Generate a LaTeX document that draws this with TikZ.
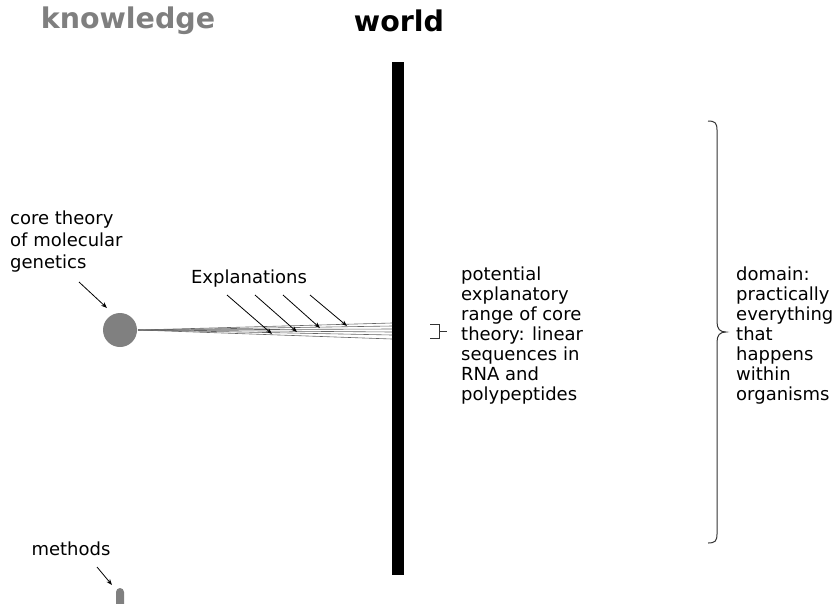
\documentclass[tikz,border=0pt]{standalone}
\usepackage{fontspec}
\setmainfont{DejaVu Sans}
\usetikzlibrary{arrows.meta}
\definecolor{kgray}{HTML}{7F7F7F}
\definecolor{cgray}{HTML}{808080}
\tikzset{
  lbl/.style={inner sep=0pt, align=left, font=\fontsize{18}{20}\selectfont},
  lblw/.style={inner sep=0pt, align=left, font=\fontsize{18}{22}\selectfont},
  head/.style={inner sep=0pt, font=\fontsize{28.5}{32}\selectfont\bfseries},
  ptr/.style={draw=black, line width=0.8pt, -{Stealth[length=6pt,width=4.5pt]}},
  fan/.style={draw=black!60, line width=0.6pt},
  brc/.style={draw=black!80, line width=1pt}
}
\begin{document}
\begin{tikzpicture}[x=1pt,y=-1pt]
\useasboundingbox (0,0) rectangle (837,603);
% headings
\node[head, text=kgray] (know) at (128,21) {knowledge};
\node[head] (world) at (399,21) {world};
% wall
\node[fill=black, inner sep=0pt, minimum width=12pt, minimum height=513pt] (wall) at (398,318.5) {};
% core theory
\node[circle, fill=cgray, inner sep=0pt, minimum size=34pt] (core) at (120,330) {};
\node[lblw, anchor=north west] (coretxt) at (10,211) {core theory\\of molecular\\genetics};
\coordinate (ca) at (79,282);
\coordinate (cb) at (107,308);
\draw[ptr] (ca) -- (cb);
% fan of explanations
\coordinate (fo) at (138,330);
\foreach \y/\n in {323/1,326/2,329/3,332/4,335/5,339/6}{
  \coordinate (f\n) at (392,\y);
  \draw[fan] (fo) -- (f\n);
}
\node[lbl] (expl) at (249,279) {Explanations};
\foreach \sx/\ex/\ey/\n in {227/272/334/1,255/297/332/2,283/320/328/3,310/347/326/4}{
  \coordinate (es\n) at (\sx,295);
  \coordinate (ee\n) at (\ex,\ey);
  \draw[ptr] (es\n) -- (ee\n);
}
% small bracket
\coordinate (b1) at (430,324);
\coordinate (b2) at (439,324);
\coordinate (b3) at (439,338);
\coordinate (b4) at (430,338);
\coordinate (b5) at (439,331);
\coordinate (b6) at (447,331);
\draw[brc] (b1) -- (b2) -- (b3) -- (b4);
\draw[brc] (b5) -- (b6);
\node[lbl, anchor=north west] (range) at (461,267) {potential\\explanatory\\range of core\\theory: linear\\sequences in\\RNA and\\polypeptides};
% big brace
\coordinate (t0) at (708,121);
\coordinate (tip) at (726,332);
\coordinate (bt) at (708,543);
\draw[brc] (t0) .. controls (715,121) and (717,123) .. (717,130) -- (717,322)
  .. controls (717,329) and (720,332) .. (tip)
  .. controls (720,332) and (717,335) .. (717,342) -- (717,534)
  .. controls (717,541) and (715,543) .. (bt);
\node[lbl, anchor=north west] (domain) at (736,267) {domain:\\practically\\everything\\that\\happens\\within\\organisms};
% methods
\node[lbl] (meth) at (71,549) {methods};
\coordinate (ma) at (97,567);
\coordinate (mb) at (112,585);
\draw[ptr] (ma) -- (mb);
\fill[cgray, rounded corners=4pt] (116,610) -- (116,588) -- (124,588) -- (124,610) -- cycle;
\end{tikzpicture}
\end{document}
